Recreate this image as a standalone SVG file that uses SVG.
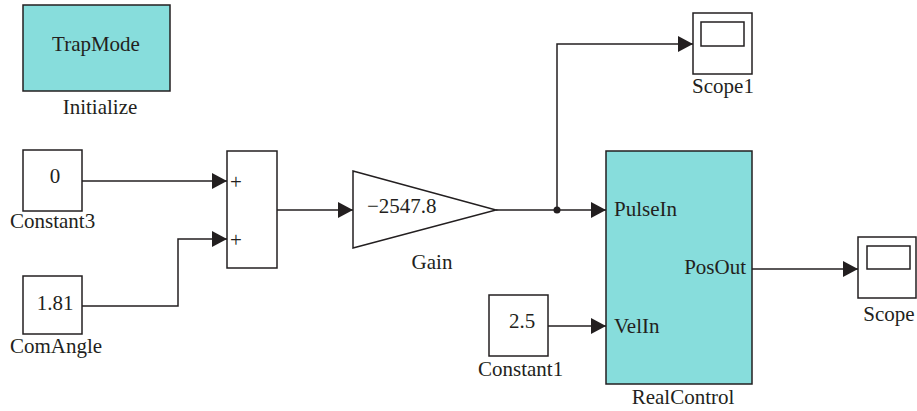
<svg xmlns="http://www.w3.org/2000/svg" width="917" height="411" viewBox="0 0 917 411">
<style>
.blk{fill:#ffffff;stroke:#231f20;stroke-width:1.5}
.sub{fill:#87dddc;stroke:#231f20;stroke-width:1.5}
.ln{fill:none;stroke:#231f20;stroke-width:1.5}
text{font-family:'Liberation Serif','DejaVu Serif',serif;font-size:21px;fill:#231f20}
.c{text-anchor:middle}
.e{text-anchor:end}
</style>
<defs>
<marker id="arr" markerUnits="userSpaceOnUse" markerWidth="15" markerHeight="16" viewBox="0 0 15 16" refX="15" refY="8" orient="auto">
<path d="M0,0 L15,8 L0,16 Z" fill="#231f20"/>
</marker>
</defs>
<g id="Initialize">
<rect class="sub" x="23" y="5" width="147" height="86"/>
<text class="c" x="96" y="51" font-family="Liberation Serif">TrapMode</text>
<text class="c" x="100" y="114">Initialize</text>
</g>
<g id="Constant3">
<rect class="blk" x="23" y="150" width="59" height="61"/>
<text class="c" x="55" y="183">0</text>
<text x="10" y="228">Constant3</text>
</g>
<g id="ComAngle">
<rect class="blk" x="23" y="276" width="59" height="58"/>
<text class="c" x="55" y="310">1.81</text>
<text x="10" y="353">ComAngle</text>
</g>
<g id="Sum">
<rect class="blk" x="227" y="151" width="50" height="117"/>
<text x="230" y="189">+</text>
<text x="230" y="247">+</text>
</g>
<g id="Gain">
<path class="blk" d="M353,171 L496,210 L353,248 Z"/>
<text x="367" y="213">−2547.8</text>
<text class="c" x="432" y="269">Gain</text>
</g>
<g id="Scope1">
<rect class="blk" x="693" y="13" width="59" height="61"/>
<rect class="blk" x="701" y="22" width="43" height="24"/>
<text class="c" x="723" y="93">Scope1</text>
</g>
<g id="RealControl">
<rect class="sub" x="606" y="151" width="146" height="233"/>
<text x="614" y="216">PulseIn</text>
<text class="e" x="746" y="274">PosOut</text>
<text x="614" y="333">VelIn</text>
<text class="c" x="683" y="404">RealControl</text>
</g>
<g id="Constant1">
<rect class="blk" x="489" y="295" width="59" height="61"/>
<text class="c" x="522" y="328">2.5</text>
<text x="478" y="376">Constant1</text>
</g>
<g id="Scope">
<rect class="blk" x="858" y="237" width="58" height="61"/>
<rect class="blk" x="867" y="246" width="43" height="23"/>
<text class="c" x="889" y="321">Scope</text>
</g>
<g id="connectors">
<path class="ln" d="M82,181 L227,181" marker-end="url(#arr)"/>
<path class="ln" d="M82,306 L178,306 L178,239 L227,239" marker-end="url(#arr)"/>
<path class="ln" d="M277,210 L353,210" marker-end="url(#arr)"/>
<path class="ln" d="M496,210 L606,210" marker-end="url(#arr)"/>
<path class="ln" d="M557,210 L557,44 L693,44" marker-end="url(#arr)"/>
<circle cx="557" cy="210" r="3.5" fill="#231f20"/>
<path class="ln" d="M548,326 L606,326" marker-end="url(#arr)"/>
<path class="ln" d="M752,269 L858,269" marker-end="url(#arr)"/>
</g>
</svg>
